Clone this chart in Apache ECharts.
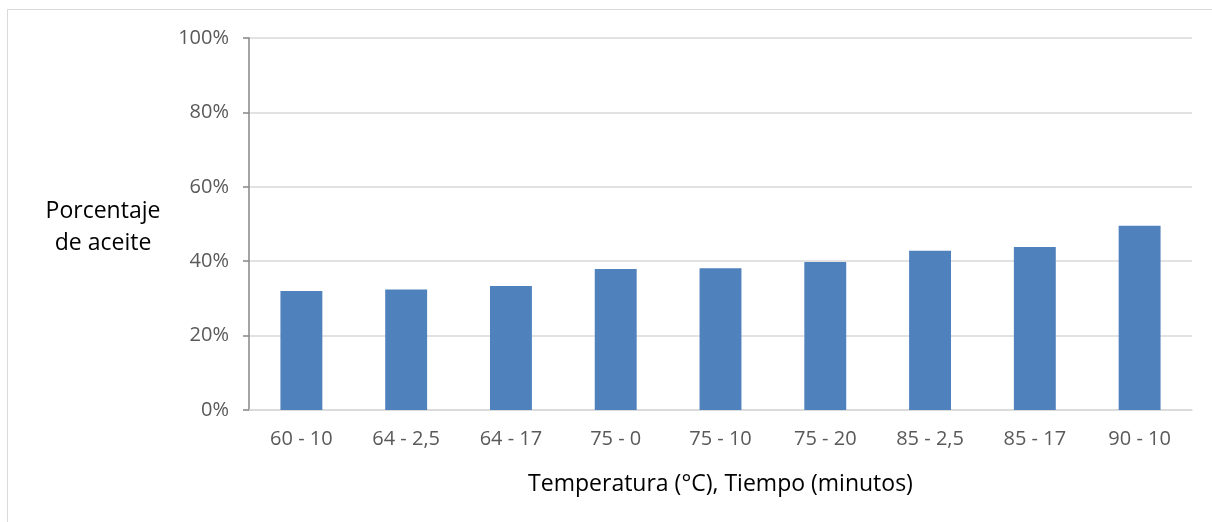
<!DOCTYPE html>
<html>
<head>
<meta charset="utf-8">
<script src="https://cdn.jsdelivr.net/npm/echarts@6/dist/echarts.min.js"></script>
<style>
html,body{margin:0;padding:0;background:#fff;}
#c{width:1212px;height:522px;}
</style>
</head>
<body>
<div id="c"></div>
<script>
const categories = ['60 - 10','64 - 2,5','64 - 17','75 - 0','75 - 10','75 - 20','85 - 2,5','85 - 17','90 - 10'];
const values = [0.320, 0.324, 0.333, 0.379, 0.381, 0.398, 0.428, 0.438, 0.495];
const yTicks = [0, 0.2, 0.4, 0.6, 0.8, 1.0];
const xAxisTitle = 'Temperatura (°C), Tiempo (minutos)';
const yAxisTitle = 'Porcentaje\nde aceite';

const FONT = 'Open Sans, Liberation Sans, sans-serif';
const chart = echarts.init(document.getElementById('c'), null, {renderer:'canvas'});
chart.setOption({
  animation:false,
  backgroundColor:'#ffffff',
  grid:{left:249, right:20, top:38, bottom:112, containLabel:false},
  graphic:[
    {type:'rect', shape:{x:7.5,y:9.5,width:1220,height:530}, style:{fill:'none', stroke:'#d9d9d9', lineWidth:1}, silent:true},
    {type:'text', x:103, y:227, style:{text:yAxisTitle, font:'23px '+FONT, fill:'#000', align:'center', verticalAlign:'middle', lineHeight:32}}
  ],
  xAxis:{
    type:'category', data:categories,
    name:xAxisTitle, nameLocation:'middle', nameGap:63,
    nameTextStyle:{fontFamily:FONT, fontSize:23, color:'#000'},
    axisLine:{show:true, lineStyle:{color:'#d9d9d9', width:1.5}},
    axisTick:{show:false},
    axisLabel:{fontFamily:FONT, fontSize:20, color:'#595959', margin:19}
  },
  yAxis:{
    type:'value', min:yTicks[0], max:yTicks[yTicks.length-1], interval:0.2,
    axisLine:{show:true, lineStyle:{color:'#868686', width:1.5}},
    axisTick:{show:true, length:6, inside:false, lineStyle:{color:'#868686', width:1.5}},
    axisLabel:{fontFamily:FONT, fontSize:20, color:'#595959', margin:20, formatter:v=>Math.round(v*100)+'%'},
    splitLine:{show:true, lineStyle:{color:'#d9d9d9', width:1.5}}
  },
  series:[{
    type:'bar', data:values, barWidth:'40%',
    itemStyle:{color:'#4f81bd'}
  }]
});
</script>
</body>
</html>
